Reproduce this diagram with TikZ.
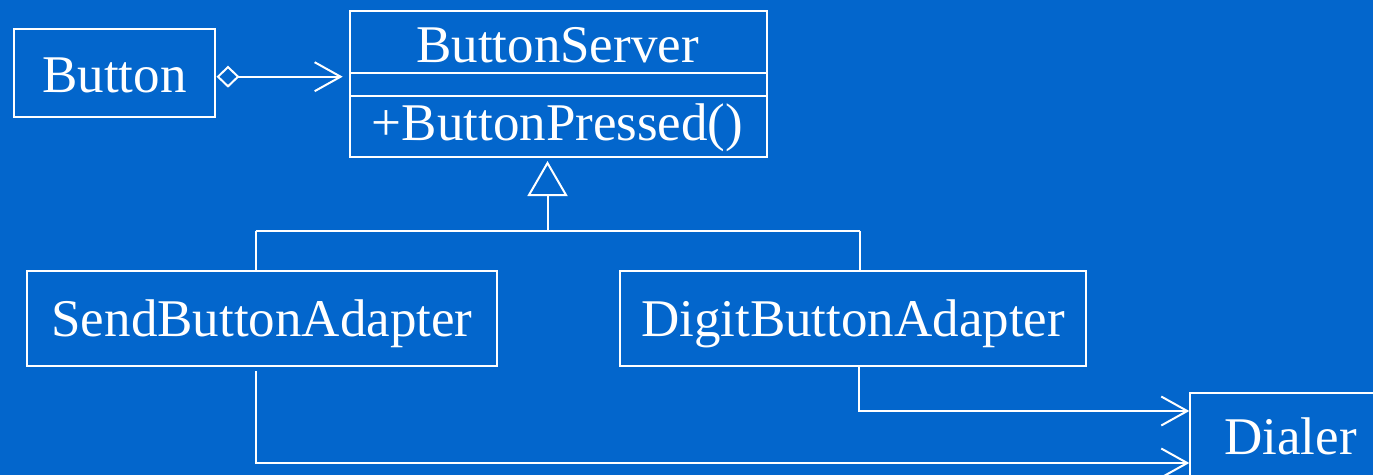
\documentclass[tikz,border=0pt]{standalone}
\usepackage{fontspec}
\setmainfont{Liberation Serif}
\usetikzlibrary{arrows.meta,calc}
\definecolor{slide}{RGB}{3,102,204}
\tikzset{
  umlbox/.style={draw=white, line width=2pt, rectangle, inner sep=0pt},
  lbl/.style={text=white, anchor=base, inner sep=0pt, font=\fontsize{53}{60}\selectfont},
  wire/.style={draw=white, line width=2pt},
  navarrow/.style={wire, -{Straight Barb[length=26pt,width=29pt,line width=2pt]}},
  inherit/.style={wire, -{Triangle[open,length=35pt,width=40pt,fill=slide,line width=2pt]}},
  aggr/.style={wire, {Diamond[open,length=23pt,width=22pt,fill=slide,line width=2pt]}-{Straight Barb[length=26pt,width=29pt,line width=2pt]}}
}
\begin{document}
\begin{tikzpicture}[x=1pt,y=-1pt]
  \useasboundingbox (0,0) rectangle (1373,475);
  \clip (0,0) rectangle (1373,475);
  \fill[slide] (0,0) rectangle (1373,475);

  % classes
  \node[umlbox, minimum width=201pt, minimum height=88pt] (button) at (114.5,73) {};
  \node[lbl] (buttonlbl) at (114.5,92) {Button};

  \node[umlbox, minimum width=416.5pt, minimum height=145.5pt] (server) at (558.25,83.75) {};
  \node[lbl] (serverlbl) at (557.5,62) {ButtonServer};
  \node[lbl] (serverop) at (557.5,140) {+ButtonPressed()};
  \draw[wire] (350,73.3) -- (766.5,73.3);
  \draw[wire] (350,95.5) -- (766.5,95.5);

  \node[umlbox, minimum width=470pt, minimum height=95pt] (send) at (262,318.5) {};
  \node[lbl] (sendlbl) at (262,336) {SendButtonAdapter};

  \node[umlbox, minimum width=466pt, minimum height=95pt] (digit) at (853,318.5) {};
  \node[lbl] (digitlbl) at (853,336) {DigitButtonAdapter};

  \node[umlbox, minimum width=203pt, minimum height=120pt, anchor=north west] (dialer) at (1189.3,391.7) {};
  \node[lbl] (dialerlbl) at (1290.5,454) {Dialer};

  % aggregation Button -> ButtonServer
  \coordinate (aggstart) at (216.5,76.7);
  \coordinate (aggend) at (342.7,76.7);
  \draw[aggr] (aggstart) -- (aggend);

  % generalization tree
  \coordinate (trunk) at (547.5,231);
  \coordinate (tip) at (547.5,161);
  \coordinate (sendjoin) at (255.5,231);
  \coordinate (digitjoin) at (860,231);
  \draw[inherit] (trunk) -- (tip);
  \draw[wire] (sendjoin) -- (digitjoin);
  \draw[wire] (sendjoin) -- (sendjoin |- send.north);
  \draw[wire] (digitjoin) -- (digitjoin |- digit.north);

  % dependencies on Dialer
  \coordinate (digitout) at (858.7,366);
  \coordinate (digitbend) at (858.7,411);
  \coordinate (sendout) at (255.5,371);
  \coordinate (sendbend) at (255.5,463);
  \draw[navarrow] (digitout) -- (digitbend) -- (digitbend -| dialer.west);
  \draw[navarrow] (sendout) -- (sendbend) -- (sendbend -| dialer.west);
\end{tikzpicture}
\end{document}
